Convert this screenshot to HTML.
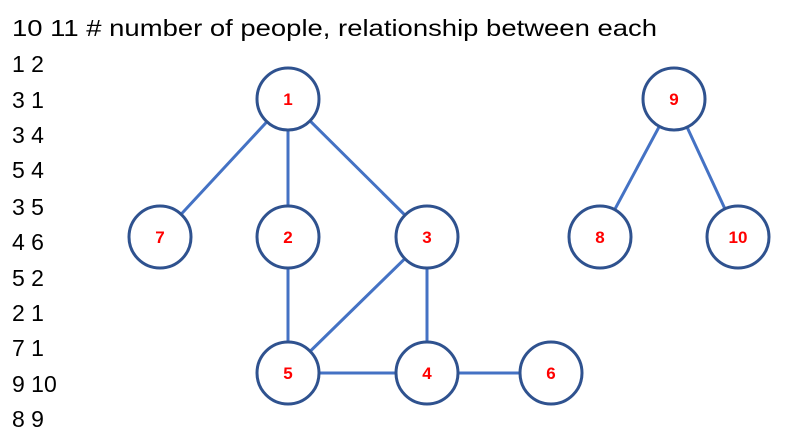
<!DOCTYPE html>
<html><head><meta charset="utf-8"><style>body{margin:0;background:#fff}svg{display:block}</style></head><body>
<svg width="787" height="443" viewBox="0 0 787 443" xmlns="http://www.w3.org/2000/svg">
<g font-family="Liberation Sans, sans-serif" font-size="23" fill="#000">
<text x="12" y="36" textLength="645" lengthAdjust="spacingAndGlyphs">10 11 # number of people, relationship between each</text>
<text x="12" y="72">1 2</text>
<text x="12" y="108">3 1</text>
<text x="12" y="143">3 4</text>
<text x="12" y="178">5 4</text>
<text x="12" y="215">3 5</text>
<text x="12" y="250">4 6</text>
<text x="12" y="286">5 2</text>
<text x="12" y="321">2 1</text>
<text x="12" y="356">7 1</text>
<text x="12" y="392">9 10</text>
<text x="12" y="427">8 9</text>
</g>
<g stroke="#4472C4" stroke-width="3">
<line x1="288" y1="99" x2="160" y2="237"/>
<line x1="288" y1="99" x2="288" y2="237"/>
<line x1="288" y1="99" x2="427" y2="237"/>
<line x1="288" y1="237" x2="288" y2="373"/>
<line x1="427" y1="237" x2="288" y2="373"/>
<line x1="427" y1="237" x2="427" y2="373"/>
<line x1="288" y1="373" x2="551" y2="373"/>
<line x1="674" y1="99" x2="600" y2="237"/>
<line x1="674" y1="99" x2="738" y2="237"/>
</g>
<g stroke="#2F528F" stroke-width="3" fill="#fff">
<circle cx="288" cy="99" r="31"/>
<circle cx="674" cy="99" r="31"/>
<circle cx="160" cy="237" r="31"/>
<circle cx="288" cy="237" r="31"/>
<circle cx="427" cy="237" r="31"/>
<circle cx="600" cy="237" r="31"/>
<circle cx="738" cy="237" r="31"/>
<circle cx="288" cy="373" r="31"/>
<circle cx="427" cy="373" r="31"/>
<circle cx="551" cy="373" r="31"/>
</g>
<g font-family="Liberation Sans, sans-serif" font-size="17" font-weight="bold" fill="#FF0000" text-anchor="middle">
<text x="288" y="105">1</text>
<text x="674" y="105">9</text>
<text x="160" y="243">7</text>
<text x="288" y="243">2</text>
<text x="427" y="243">3</text>
<text x="600" y="243">8</text>
<text x="738" y="243">10</text>
<text x="288" y="379">5</text>
<text x="427" y="379">4</text>
<text x="551" y="379">6</text>
</g>
</svg>
</body></html>
